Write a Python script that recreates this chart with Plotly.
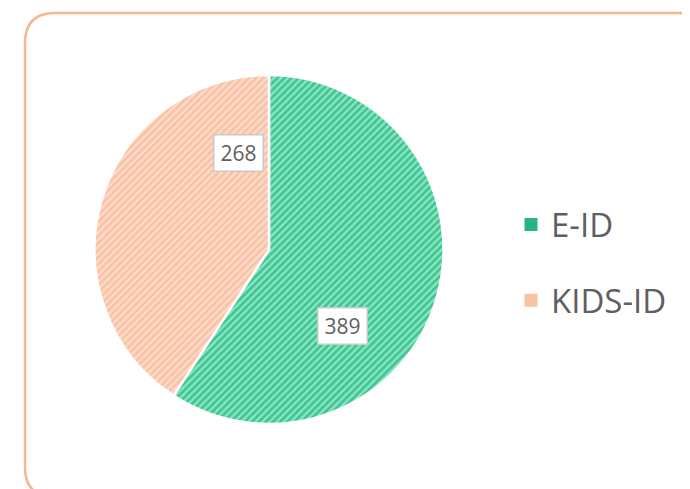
import plotly.graph_objects as go

# ---- data ----
categories = ["E-ID", "KIDS-ID"]
values = [389, 268]

# ---- styles ----
W, H = 690, 489
OFF = 8  # page body margin
bg_colors = ["#84ebc4", "#fddccb"]
fg_colors = ["#0b9a62", "#f4aa80"]
legend_colors = ["#28b47f", "#f7c2a1"]
text_color = "#5f5f5f"
border_color = "#f6b68e"


def px(x):
    return (x - OFF) / W


def py(y):
    return (H - (y - OFF)) / H


fig = go.Figure()

# pie
cx, cy, r = 269, 249.5, 174.5
fig.add_trace(go.Pie(
    labels=categories,
    values=values,
    sort=False,
    direction="clockwise",
    rotation=0,
    textinfo="none",
    hoverinfo="label+value",
    showlegend=False,
    marker=dict(
        colors=bg_colors,
        line=dict(color="white", width=2.5),
        pattern=dict(shape=["/", "/"], fgcolor=fg_colors, bgcolor=bg_colors,
                     size=5, solidity=0.55, fillmode="overlay"),
    ),
    domain=dict(x=[px(cx - r), px(cx + r)], y=[py(cy + r), py(cy - r)]),
))

# legend entries (one group per category so spacing can be set)
for i, cat in enumerate(categories):
    fig.add_trace(go.Scatter(
        x=[None], y=[None], mode="markers", name=cat,
        legendgroup=cat,
        marker=dict(symbol="square", size=13, color=legend_colors[i]),
        showlegend=True,
    ))

# value labels in boxes
label_pos = [(342.5, 325.5), (238, 153.5)]
annotations = []
for v, (lx, ly) in zip(values, label_pos):
    annotations.append(dict(
        x=px(lx), y=py(ly), xref="paper", yref="paper",
        text=str(v), showarrow=False,
        font=dict(family="Open Sans", size=21, color=text_color),
        bgcolor="white", bordercolor="#c9c9c9", borderwidth=1.5,
        width=46, height=33, borderpad=1,
        xanchor="center", yanchor="middle",
    ))

# rounded border frame
x0, x1, y0, y1, rr = 25, 707, 13, 497, 30
path = (
    f"M {px(x0)},{py(y0 + rr)} "
    f"Q {px(x0)},{py(y0)} {px(x0 + rr)},{py(y0)} "
    f"L {px(x1 - rr)},{py(y0)} "
    f"Q {px(x1)},{py(y0)} {px(x1)},{py(y0 + rr)} "
    f"L {px(x1)},{py(y1 - rr)} "
    f"Q {px(x1)},{py(y1)} {px(x1 - rr)},{py(y1)} "
    f"L {px(x0 + rr)},{py(y1)} "
    f"Q {px(x0)},{py(y1)} {px(x0)},{py(y1 - rr)} Z"
)

fig.update_layout(
    width=W, height=H,
    margin=dict(l=0, r=0, t=0, b=0),
    paper_bgcolor="white",
    plot_bgcolor="white",
    xaxis=dict(visible=False),
    yaxis=dict(visible=False),
    annotations=annotations,
    shapes=[dict(type="path", path=path, xref="paper", yref="paper",
                 line=dict(color=border_color, width=2.5), layer="below")],
    legend=dict(
        x=px(511), y=py(262.5), xanchor="left", yanchor="middle",
        font=dict(family="Open Sans", size=33, color=text_color),
        tracegroupgap=30,
        bgcolor="rgba(0,0,0,0)",
    ),
)

fig.write_html("out.html")
